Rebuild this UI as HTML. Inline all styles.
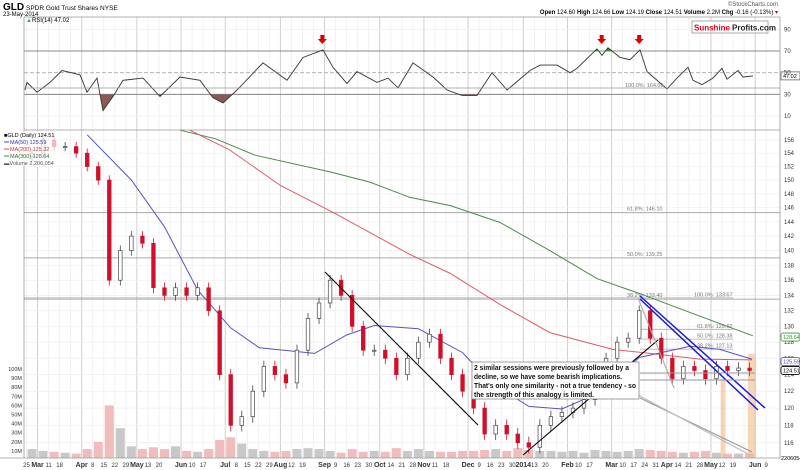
<!DOCTYPE html>
<html><head><meta charset="utf-8"><style>
body{margin:0;background:#fff;}
svg{display:block;font-family:"Liberation Sans",sans-serif;}
</style></head><body>
<svg id="chart" width="800" height="470" viewBox="0 0 800 470" xmlns="http://www.w3.org/2000/svg">
<rect width="800" height="470" fill="#fff"/>
<g id="grid"></g>
<g id="rsi"></g>
<g id="vol"></g>
<g id="main"></g>
<g id="axes"></g>
<text x="3" y="10" font-size="10" font-weight="bold">GLD</text>
<text x="26" y="10" font-size="6.5">SPDR Gold Trust Shares NYSE</text>
<text x="3" y="16" font-size="6">23-May-2014</text>
<text x="778" y="6" font-size="6" text-anchor="end" fill="#555">©StockCharts.com</text>
<text x="778" y="14" font-size="6" text-anchor="end"><tspan font-weight="bold">Open</tspan> 124.60 <tspan font-weight="bold">High</tspan> 124.66 <tspan font-weight="bold">Low</tspan> 124.19 <tspan font-weight="bold">Close</tspan> 124.51 <tspan font-weight="bold">Volume</tspan> 2.2M <tspan font-weight="bold">Chg</tspan> -0.16 (-0.13%) <tspan fill="#c00">▾</tspan></text>
<g>
<rect x="692" y="21" width="76" height="12" fill="#fff" stroke="#888" stroke-width="0.7"/>
<text x="694" y="30.5" font-size="8" font-weight="bold" fill="#e0001b">Sunshine</text>
<text x="732" y="30.5" font-size="8" font-weight="bold" fill="#222">Profits.com</text>
</g>
<text x="26" y="22" font-size="6"><tspan fill="#2a7">▲</tspan>RSI(14) 47.02</text>
<g font-size="5.5">
<rect x="3" y="131" width="58" height="35" fill="#fff" fill-opacity="0.7"/>
<text x="4" y="137">■GLD (Daily) 124.51</text>
<line x1="4" y1="142" x2="9" y2="142" stroke="#44c"/><text x="10" y="144" fill="#33a">MA(50) 125.59</text>
<line x1="4" y1="149" x2="9" y2="149" stroke="#e44"/><text x="10" y="151" fill="#c33">MA(200) 125.32</text>
<line x1="4" y1="156" x2="9" y2="156" stroke="#393"/><text x="10" y="158" fill="#363">MA(300) 128.64</text>
<text x="4" y="165" fill="#555">▬Volume 2,206,054</text>
</g>
</svg>
<script>
// ---- data ----
const priceCloses=[154,156,155,155,154,152,150,136,140,142,141,135,134,135,134,135,132,124,118,119,122,125,124,123,127,131,133,136,134,130,127,127,126,124,126,128,129,126,124,122,120,117,118,117,116,115.5,118,119,119.5,120,121,124,126,128,128.5,132,128.5,126,123.5,125,124.5,123.5,125,124.5,124.8,124.5];
const volumes=[12,10,9,8,7,12,20,60,35,15,12,14,12,15,10,9,12,22,25,18,12,10,9,10,12,13,12,10,8,12,9,10,9,13,10,12,10,9,9,10,10,11,12,10,13,11,10,10,9,10,8,11,10,9,10,12,11,10,9,8,9,10,8,7,7,7];
const ma50Weeks=[5,9,12,15,18,20.6,25.6,28.5,31,35,39,41.5,45,48,51.5,55,59.6,62.3,65.2];
const ma50Values=[156.8,150,143.3,134.7,129.8,127.3,126.6,128.9,130.1,129.7,126.7,123.1,120.2,119.9,121.9,126.1,127.5,127.1,125.9];
const ma200Weeks=[14.3,17.9,22.5,27.3,34.2,37.9,42.4,46.9,52.6,56,60.5,65.2];
const ma200Values=[157.5,154.5,149.2,145.3,139.5,136.9,132.8,129.2,127.1,126.6,125.9,125.8];
const ma300Weeks=[13.4,16.6,20.2,27,30.6,34.2,37.9,42.4,46.9,51.2,55.1,60.5,65.3];
const ma300Values=[157.5,156.2,153.7,151.2,149.7,147.5,146.3,143.9,140,136.2,134.2,131.3,128.8];
const rsiWeeks=[-0.63,-0.45,0.45,1.63,2.72,4.35,4.98,5.89,6.43,7.34,8.24,10.05,11.59,13.41,15.22,16.39,17.3,18.57,20.92,23.1,24.55,26.36,27.26,28.53,29.44,31.25,32.25,33.15,33.33,34.51,36.32,37.59,38.95,40.31,41.67,43.03,45.11,46.01,47.55,48.73,49.37,51.18,51.63,52.17,53.26,54.17,55.07,55.71,57.52,58.42,59.42,59.87,60.69,61.68,62.5,62.95,63.95,64.4,65.31];
const rsiValues=[34,41,32,41,52,48,32,45,15,28,43,45,28,46,43,27,22,34,59,43,64,71,55,40,51,41,45,36,39,59,46,34,29,29,50,34,52,57,57,50,54,72,66,73,64,62,71,51,35,45,55,43,39,45,54,44,52,46,47];
const priceTicks=[116,118,120,122,124,126,128,130,132,134,136,138,140,142,144,146,148,150,152,154,156];
const volTicks=[10,20,30,40,50,60,70,80,90,100];
const rsiTicks=[10,30,50,70,90];
const fibPrices=[145.3,139.0,133.5];
const fibLabels=["61.8%: 146.10","50.0%: 139.25","38.2%: 133.40"];
const fib2Prices=[133.67,129.62,128.38,127.13];
const fib2Labels=["100.0%: 133.67","61.8%: 129.62","50.0%: 128.38","38.2%: 127.13"];
const arrowWeeks=[26.3,51.6,55];
// ---- scales ----
const X0=24,X1=780;
const wx=w=>32+w*11.04;
const py=p=>140+1022*Math.log(156/p);
const vy=v=>460-v*0.91;
const ry=v=>116-(v-10)*1.083;
const NS="http://www.w3.org/2000/svg";
function mk(parent,tag,attrs){const e=document.createElementNS(NS,tag);for(const k in attrs)e.setAttribute(k,attrs[k]);document.getElementById(parent).appendChild(e);return e;}
const start=new Date(2013,1,25);
const months=["Jan","Feb","Mar","Apr","May","Jun","Jul","Aug","Sep","Oct","Nov","Dec"];
let prevM=1;
for(let w=0;w<=67;w++){
  const d=new Date(start.getTime()+w*7*864e5);
  const nd=new Date(start.getTime()+(w+1)*7*864e5);
  const x=wx(w)-5.5;
  const newM=d.getMonth()!==prevM; prevM=d.getMonth();
  const nextNewM=nd.getMonth()!==d.getMonth();
  let l=mk("grid","line",{x1:x,x2:x,y1:17,y2:458,stroke:newM?"#cfcfcf":"#ececec","stroke-width":newM?1:0.7});
  
  
  if(!newM && nextNewM && nd.getDate()<=3) continue;
  let lab=newM?(d.getMonth()===0?String(d.getFullYear()):months[d.getMonth()]):String(d.getDate());
  let t=mk("axes","text",{x:x,y:467,"font-size":newM?7:6,"font-weight":newM?"bold":"normal","text-anchor":"middle",fill:"#333"});
  t.textContent=lab;
  
  
}
priceTicks.forEach(p=>{
  let l=mk("grid","line",{x1:X0,x2:X1,y1:py(p),y2:py(p),stroke:"#eee","stroke-width":0.7});
  
  
  let t=mk("axes","text",{x:784,y:py(p)+2,"font-size":6,fill:"#333"});
  t.textContent=p;
  
  
});
volTicks.forEach(v=>{
  let t=mk("axes","text",{x:22,y:vy(v)+2,"font-size":5.5,fill:"#333","text-anchor":"end"});
  t.textContent=v+"M";
  
  
});
rsiTicks.forEach(v=>{
  const strong=(v===30||v===70);
  let l=mk("rsi","line",{x1:X0,x2:X1,y1:ry(v),y2:ry(v),stroke:strong?"#888":(v===50?"#aaa":"#eee"),"stroke-width":strong?1:0.8,"stroke-dasharray":v===50?"4 2":"none"});
  
  
  let t=mk("axes","text",{x:784,y:ry(v)+2,"font-size":6,fill:"#333"});
  t.textContent=v;
  
  
});
let rpts=rsiWeeks.map((w,i)=>[wx(w),ry(rsiValues[i])]);
const dpath="M"+rpts.map(p=>p[0].toFixed(1)+","+p[1].toFixed(1)).join("L");
const defs=mk("rsi","defs",{});
const c1=document.createElementNS(NS,"clipPath");c1.setAttribute("id","lo");
const r1=document.createElementNS(NS,"rect");r1.setAttribute("x",0);r1.setAttribute("y",ry(30));r1.setAttribute("width",800);r1.setAttribute("height",40);c1.appendChild(r1);defs.appendChild(c1);
const c2=document.createElementNS(NS,"clipPath");c2.setAttribute("id","hi");
const r2=document.createElementNS(NS,"rect");r2.setAttribute("x",0);r2.setAttribute("y",0);r2.setAttribute("width",800);r2.setAttribute("height",ry(70));c2.appendChild(r2);defs.appendChild(c2);
const lastX=rpts[rpts.length-1][0],firstX=rpts[0][0];
let f1=mk("rsi","path",{d:dpath+"L"+lastX+","+ry(30)+"L"+firstX+","+ry(30)+"Z",fill:"#8a5a55","clip-path":"url(#lo)"});


let f2=mk("rsi","path",{d:dpath+"L"+lastX+","+ry(70)+"L"+firstX+","+ry(70)+"Z",fill:"#3a8a3a","clip-path":"url(#hi)"});


let rl=mk("rsi","path",{d:dpath,fill:"none",stroke:"#333","stroke-width":0.9});


let rh=mk("rsi","line",{x1:X0,x2:X1,y1:88,y2:88,stroke:"#999","stroke-width":0.8});


let rt=mk("rsi","text",{x:625,y:87,"font-size":5.5,fill:"#777"});rt.textContent="100.0%: 164.06";


arrowWeeks.forEach(w=>{
  const x=wx(w);
  let a=mk("rsi","path",{d:"M"+(x-2)+",35 h4 v4 h2.5 l-4.5,5 l-4.5,-5 h2.5 z",fill:"#d00"});
  
  
});
let rb=mk("rsi","rect",{x:781,y:ry(47.02)-4,width:19,height:8,fill:"#fff",stroke:"#333","stroke-width":0.6});


let rbt=mk("rsi","text",{x:783,y:ry(47.02)+2,"font-size":5.5});rbt.textContent="47.02";


[[X0,17,X0,458],[X1,17,X1,458],[X0,17,X1,17],[X0,130,X1,130],[0,458,X1,458]].forEach(c=>{
  let l=mk("axes","line",{x1:c[0],y1:c[1],x2:c[2],y2:c[3],stroke:"#999","stroke-width":0.8});
  
  
});
priceCloses.forEach((c,i)=>{
  const o=i?priceCloses[i-1]:153.5;
  let b=mk("vol","rect",{x:wx(i)-4.5,y:vy(volumes[i]),width:9,height:460-vy(volumes[i])-2,fill:c<o?"#f0bcbc":"#c8c8c8"});
  
  
});
fibPrices.forEach((p,i)=>{
  let l=mk("main","line",{x1:X0,x2:X1,y1:py(p),y2:py(p),stroke:"#aaa","stroke-width":1});
  
  
  let t=mk("main","text",{x:627,y:py(p)-2,"font-size":5.5,fill:"#777"});t.textContent=fibLabels[i];
  
  
});
fib2Prices.forEach((p,i)=>{
  let l=mk("main","line",{x1:i?640:X0,x2:733,y1:py(p),y2:py(p),stroke:"#aaa","stroke-width":0.8});
  
  
  let t=mk("main","text",{x:i?697:694,y:py(p)-1.5,"font-size":5.5,fill:"#777"});t.textContent=fib2Labels[i];
  
  
});
[[62.6,5],[65.2,8]].forEach(s=>{
  let r=mk("main","rect",{x:wx(s[0])-s[1]/2,y:s[1]>6?354:379,width:s[1],height:s[1]>6?104:79,fill:"#f2b98a","fill-opacity":0.6});
  
  
});
function maPath(ws,vs,color,name){
  let l=mk("main","path",{d:"M"+ws.map((w,i)=>wx(w).toFixed(1)+","+py(vs[i]).toFixed(1)).join("L"),fill:"none",stroke:color,"stroke-width":1});
  
  
}
maPath(ma300Weeks,ma300Values,"#4a8a4a","ma300-line");
maPath(ma200Weeks,ma200Values,"#e05a6a","ma200-line");
maPath(ma50Weeks,ma50Values,"#5555bb","ma50-line");
priceCloses.forEach((c,i)=>{
  const o=i?priceCloses[i-1]:153.5;
  const h=Math.max(o,c)+0.7,l=Math.min(o,c)-0.7,x=wx(i);
  const down=c<o,col=down?"#d0102a":"#444";
  let wk=mk("main","line",{x1:x,x2:x,y1:py(h),y2:py(l),stroke:col,"stroke-width":0.8});
  
  
  let b=mk("main","rect",{x:x-1.8,y:py(Math.max(o,c)),width:3.6,height:Math.max(1,py(Math.min(o,c))-py(Math.max(o,c))),fill:down?"#d0102a":"#fff",stroke:col,"stroke-width":0.7});
  
  
});
[[325,272,478,425,"#000"],[523,455,658,340,"#000"],[640,296,765,408,"#1a1ad8"],[640,299,758,410,"#1a1ad8"],[638,298,674,388,"#aaa"],[640,373,755,373,"#999"],[640,380,755,380,"#999"],[640,398,752,452,"#999"],[638,395,750,455,"#bbb"]].forEach(s=>{
  let l=mk("main","line",{x1:s[0],y1:s[1],x2:s[2],y2:s[3],stroke:s[4],"stroke-width":s[4]=="#1a1ad8"?1.5:1.1});
  
  
});
let box=mk("main","rect",{x:472,y:362,width:167,height:37,fill:"#fff",stroke:"#888","stroke-width":0.8});


[["2 similar sessions were previously followed by a",155],["decline, so we have some bearish implications.",148],["That's only one similarity - not a true tendency - so",162],["the strength of this analogy is limited.",120]].forEach((s,i)=>{
  let t=mk("main","text",{x:474,y:370+i*9,"font-size":7.4,"font-weight":"bold",fill:"#111",textLength:s[1],lengthAdjust:"spacingAndGlyphs"});t.textContent=s[0];
  
  
});
[[128.64,"#393","128.64"],[125.59,"#44c","125.59"],[124.51,"#000","124.51"]].forEach(v=>{
  let r=mk("axes","rect",{x:781,y:py(v[0])-4,width:19,height:8,fill:"#fff",stroke:v[1],"stroke-width":0.8,rx:2});
  
  
  let t=mk("axes","text",{x:783,y:py(v[0])+2,"font-size":5.5,fill:v[1]});t.textContent=v[2];
  
  
});
let vt=mk("axes","text",{x:781,y:460,"font-size":5.5});vt.textContent="2206054";


</script>
</body></html>
